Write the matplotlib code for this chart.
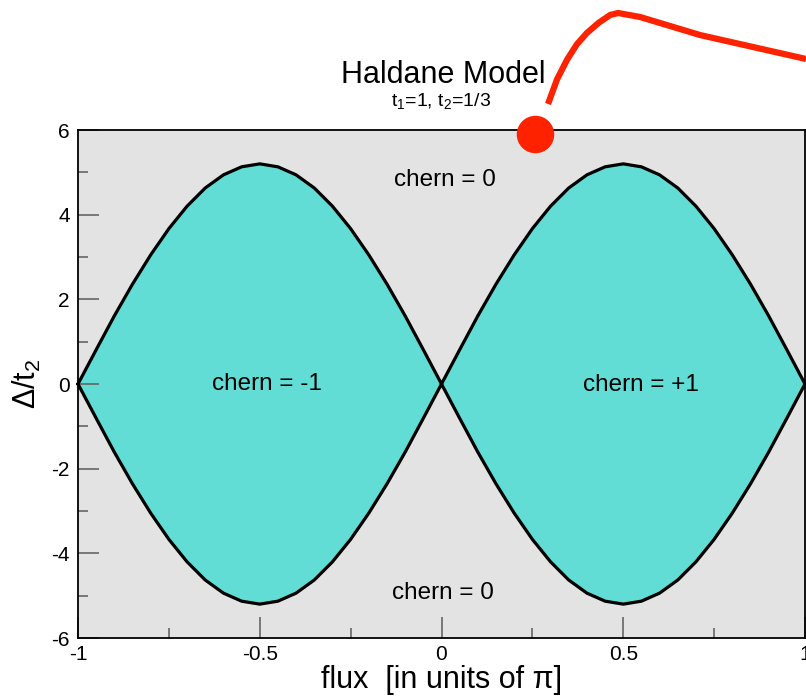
import numpy as np
import matplotlib.pyplot as plt

plt.rcParams['font.family'] = ['Liberation Sans', 'DejaVu Sans']
plt.rcParams['mathtext.fontset'] = 'custom'
plt.rcParams['mathtext.rm'] = 'Liberation Sans'
plt.rcParams['mathtext.it'] = 'Liberation Sans'
plt.rcParams['axes.unicode_minus'] = False

# flux in units of pi, sampled every 0.05
flux = np.round(np.arange(-1.0, 1.0001, 0.05), 2)
# upper phase boundary (|Delta/t2|)
quarter = [0.0, 0.81, 1.61, 2.36, 3.05, 3.67, 4.20, 4.63, 4.94, 5.13, 5.20]
half = quarter + quarter[-2::-1]
gap = np.array(half + half[1:])

labels = ["chern = 0", "chern = -1", "chern = +1", "chern = 0"]
label_x = [0.01, -0.48, 0.55, 0.005]
label_y = [4.82, 0.0, -0.02, -4.94]

# red marker overlay
dot_x, dot_y = 0.257, 5.9
red_x = [0.293, 0.318, 0.345, 0.372, 0.40, 0.432, 0.464, 0.486, 0.546, 0.711, 1.003]
red_y = [6.614, 7.20, 7.654, 8.02, 8.292, 8.53, 8.717, 8.764, 8.670, 8.244, 7.677]

fig = plt.figure(figsize=(8.06, 6.97), dpi=100)
ax = fig.add_axes([78/806, 1-638/697, 727/806, 508/697])
ax.set_facecolor('#e3e3e3')

ax.fill_between(flux, -gap, gap, color='#61ddd6', lw=0, zorder=1)
ax.plot(flux, gap, color='black', lw=2.3, zorder=2, clip_on=False)
ax.plot(flux, -gap, color='black', lw=2.3, zorder=2, clip_on=False)

for t, x, y in zip(labels, label_x, label_y):
    ax.text(x, y, t, ha='center', va='center', fontsize=17.5)

ax.set_xlim(-1, 1)
ax.set_ylim(-6, 6)
ax.set_xticks([-1, -0.5, 0, 0.5, 1])
ax.set_xticklabels(['-1', '-0.5', '0', '0.5', '1'])
ax.set_yticks(range(-6, 7, 2))
ax.set_xticks(np.arange(-1, 1.01, 0.25), minor=True)
ax.set_yticks(range(-6, 7, 1), minor=True)
ax.tick_params(which='both', direction='in', color='#666666', width=1.2)
ax.tick_params(which='major', length=15)
ax.tick_params(which='minor', length=7)
ax.tick_params(axis='x', labelsize=15, pad=5)
ax.tick_params(axis='y', labelsize=15, pad=6)
for s in ax.spines.values():
    s.set_linewidth(1.3)

ax.set_xlabel('flux  [in units of π]', fontsize=22, labelpad=1)
ax.set_ylabel('Δ/t$_2$', fontsize=22, labelpad=6)

fig.text(443/806, 1-75/697, 'Haldane Model', ha='center', va='center', fontsize=22)
fig.text(441/806, 1-101/697, 't$_1$=1, t$_2$=1/3', ha='center', va='center', fontsize=14)

ax.plot(red_x, red_y, color='#ff2200', lw=4.5, clip_on=False, zorder=5,
        solid_capstyle='butt')
ax.plot([dot_x], [dot_y], 'o', color='#ff2200', ms=27, mew=0, clip_on=False, zorder=5)

fig.savefig('out.png', dpi=100)
